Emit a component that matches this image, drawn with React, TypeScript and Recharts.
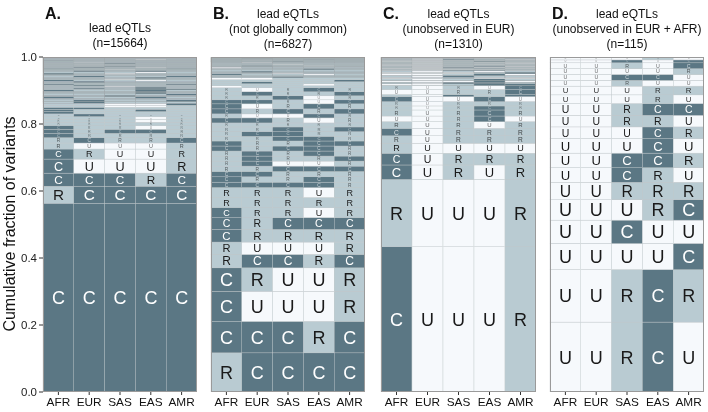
import React from "react";
import { BarChart, Bar, XAxis, YAxis } from "recharts";

const POPS = ["AFR", "EUR", "SAS", "EAS", "AMR"];
const Y_TICKS = [0, 0.2, 0.4, 0.6, 0.8, 1.0];

// each row = one observed pattern (letters in POPS order), bottom to top
const aPatterns = [
  "CCCCC", "RCCCC", "CCCRC", "CUUUR", "CRUUR",
  "RUUUR", "RCRRC", "CRRRR", "CRCCR", "CRRUR", "RRRRR", "RRRUR",
  "RRRUR", "RCRRR", "CRRRR", "CRRCR", "CCRRR", "RRUUR", "RRUUC", "RCRRR", "RCRRC", "RRRRR", "CRRCR",
  "RRCRR", "RRRRC", "RRRCR", "RRRCR", "CRRCR", "RRRCC", "RCRCR", "RRRCR", "RRURR", "RCRRR", "CRRRC",
  "RRRRR", "RCRRR", "CRRUR", "RRURR", "RRRCR", "RCRRC", "RRRRR", "CRURR", "RRRUR", "RCRCR",
  "RRRRR", "RRURR", "CRRRC", "RRRRR", "RCRUR", "RRRRR", "RRCRR", "RRRRR", "RURRR", "RRRRR",
  "RRCRR", "RRRRR", "RURRR", "RRRRR", "CRRRR", "RRRRR", "RRRUR", "RRRRR", "RRRRR", "RCRRR",
];
const aFracs = [
  0.564, 0.051, 0.039, 0.042, 0.030,
  0.018, 0.016, 0.013, 0.012, 0.011, 0.010, 0.009,
  0.008, 0.008, 0.007, 0.007, 0.006, 0.006, 0.006, 0.005, 0.005, 0.005, 0.005,
  0.004, 0.004, 0.004, 0.004, 0.004, 0.003, 0.003, 0.003, 0.003, 0.003, 0.003,
  0.004, 0.004, 0.004, 0.004, 0.004, 0.004, 0.004, 0.004, 0.004, 0.004,
  0.002, 0.002, 0.002, 0.002, 0.002, 0.002, 0.002, 0.002, 0.002, 0.002,
  0.002, 0.002, 0.002, 0.002, 0.002, 0.002, 0.002, 0.002, 0.002, 0.002,
];

const bPatterns = [
  "RCCCC", "CCCRC", "CUUUR", "CRUUR", "RCCRC", "RUUUR", "CRRRR", "CRCCC", "CRRUR", "RRRRR", "RRRUR",
  "CCCCR", "CRRCR", "CCRRR", "RRCCC", "RCUUR", "RCRRC", "RCRCR", "CRCCR", "CRRCC", "RRCCR", "RCCRR", "RRCRC", "RRRRR",
  "CCRUR", "RUUCR", "CRCRC", "CURCR", "CCRUC", "RRCUR", "RCRRC", "RURCR",
  "URRRR", "RRRUR", "RCRRR", "RRRRC", "UURRR", "RRCRR", "RRRRR", "CRRUR", "RRURR", "RCRRR", "RRRRR", "RRRCR",
  "URRRR", "RRRRR", "RCRUR", "RRRRR", "RRURR", "RRRRR",
  "RURRR", "RRRRR", "RRRRR", "RRCRR", "RRRRR", "RURRR", "RRRRR", "RRRRR", "RRRCR", "RRRRR",
  "RRRRR", "RCRRR", "RRRRR", "RRURR", "RRRRR",
];
const bFracs = [
  0.117, 0.094, 0.090, 0.070, 0.040, 0.037, 0.038, 0.035, 0.030, 0.030, 0.030,
  0.016, 0.016, 0.016, 0.016, 0.015, 0.015, 0.015, 0.015, 0.015, 0.014, 0.014, 0.014, 0.012,
  0.015, 0.012, 0.015, 0.015, 0.012, 0.012, 0.012, 0.012,
  0.006, 0.006, 0.006, 0.006, 0.006, 0.004, 0.004, 0.004, 0.004, 0.004, 0.004, 0.004, 0.004,
  0.0025, 0.0025, 0.0025, 0.0025, 0.0025, 0.0025,
  0.001, 0.001, 0.001, 0.001, 0.001, 0.001, 0.001, 0.001, 0.001, 0.001,
  0.001, 0.001, 0.001, 0.001, 0.001,
];

const cPatterns = [
  "CUUUR", "RUUUR", "CURUR", "CURRR", "RUUUU",
  "RURRR", "CURRR", "RURUR", "UURCU", "RURCR", "RURCR", "RURRR", "CUUCU", "RUCRC", "UURRC", "RURUC",
  "UURCC", "RUCCR", "UUUCU", "RURCR", "UURUU", "RUCRR", "UURCU", "UUURC", "RURUR",
  "UUCCU", "RUUUR", "UURCR", "UURRU", "RUCUR", "UUURU", "RURCU", "UURRR", "RUURU", "UURUR",
  "RURRU", "UUURR", "RURUU", "UURCR", "RUUUU", "UURRR", "RUCRU", "UUURR", "RURUR", "UUUUU",
];
const cFracs = [
  0.433, 0.201, 0.043, 0.035, 0.030,
  0.022, 0.022, 0.020, 0.017, 0.018, 0.012, 0.013, 0.015, 0.006, 0.015, 0.012,
  0.005, 0.005, 0.005, 0.005, 0.005, 0.005, 0.005, 0.005, 0.005,
  0.002, 0.002, 0.002, 0.002, 0.002, 0.002, 0.002, 0.002, 0.002, 0.002,
  0.002, 0.002, 0.002, 0.002, 0.002, 0.002, 0.002, 0.002, 0.002, 0.002,
];

const dPatterns = [
  "UURCU", "UURCR", "UUUUC", "UUCUU", "UUURC", "UURRR", "UUCRU", "UUCCR", "UUUCU", "UUUCR",
  "UURRU", "UURCC", "UUURU", "UUURR", "UURUU", "UUCCU", "UUUUR", "UURUC", "UUCUC", "UUURU",
];
const dCounts = [24, 18, 9, 8, 7, 6, 5, 5, 5, 4, 4, 4, 3, 3, 2, 2, 2, 2, 1, 1];

const COLORS: Record<string, string> = { C: "#5b7784", R: "#b9cbd2", U: "#f6f9fc" };

function buildRows(fracs: number[]) {
  const total = fracs.reduce((s, v) => s + v, 0);
  return POPS.map((pop) => {
    const row: Record<string, any> = { pop };
    fracs.forEach((f, i) => { row[`r${i}`] = f / total; });
    return row;
  });
}

const cellShape = (pattern: string) => (props: any) => {
  const { x, y, width, height, payload } = props;
  const letter = pattern[POPS.indexOf(payload.pop)];
  const h = Math.abs(height);
  const top = height < 0 ? y + height : y;
  const fs = Math.min(h * 0.9, 18);
  // very thin slivers read as grey in the original, so give them a darker edge
  const edge = h < 2 ? "#9ea5a9" : "#c4cacd";
  return (
    <g>
      <rect x={x} y={top} width={width} height={h} fill={COLORS[letter]} stroke={edge} strokeWidth={0.4} />
      {fs >= 2.4 && (
        <text x={x + width / 2} y={top + h / 2 + fs * 0.36} textAnchor="middle" fontSize={fs}
          fill={letter === "C" ? "#ffffff" : "#1a1a1a"} opacity={Math.min(1, 0.25 + fs / 12)}>
          {letter}
        </text>
      )}
    </g>
  );
};

const panels = [
  { id: "A", patterns: aPatterns, fracs: aFracs, left: 0, width: 197, yw: 43, title: ["lead eQTLs", "(n=15664)"] },
  { id: "B", patterns: bPatterns, fracs: bFracs, left: 200, width: 165, yw: 11, title: ["lead eQTLs", "(not globally common)", "(n=6827)"] },
  { id: "C", patterns: cPatterns, fracs: cFracs, left: 370, width: 166, yw: 11, title: ["lead eQTLs", "(unobserved in EUR)", "(n=1310)"] },
  { id: "D", patterns: dPatterns, fracs: dCounts, left: 539, width: 165, yw: 11, title: ["lead eQTLs", "(unobserved in EUR + AFR)", "(n=115)"] },
];

const PLOT_TOP = 57;
const PLOT_H = 335;
const FONT = "'Liberation Sans', Arial, Helvetica, sans-serif";

function Panel({ patterns, fracs, width, yw, labels }: any) {
  const data = buildRows(fracs);
  return (
    <BarChart width={width} height={412} data={data} margin={{ top: PLOT_TOP, right: 0, bottom: 0, left: 0 }}
      barCategoryGap={0} barGap={0}>
      <XAxis dataKey="pop" height={20} axisLine={false} tickLine={{ stroke: "#333" }} tickSize={3} tickMargin={3}
        interval={0} tick={{ fontSize: 11.8, fill: "#111", fontFamily: FONT }} />
      <YAxis domain={[0, 1]} ticks={Y_TICKS} width={yw} axisLine={false} tickLine={{ stroke: "#333" }} tickSize={4}
        tickMargin={2} allowDataOverflow tickFormatter={(v: number) => v.toFixed(1)}
        tick={labels ? { fontSize: 11.5, fill: "#222", fontFamily: FONT } : false} />
      {patterns.map((p: string, i: number) => (
        <Bar key={i} dataKey={`r${i}`} stackId="s" isAnimationActive={false} shape={cellShape(p)} />
      ))}
    </BarChart>
  );
}

export default function App() {
  return (
    <div style={{ position: "absolute", left: 0, top: 0, width: 708, height: 412, background: "#fff", fontFamily: FONT }}>
      {panels.map((p) => (
        <div key={p.id + "bg"} style={{ position: "absolute", left: p.left + p.yw, top: PLOT_TOP, width: p.width - p.yw,
          height: PLOT_H, background: "#a3aeb3" }} />
      ))}
      {panels.map((p) => (
        <div key={p.id} style={{ position: "absolute", left: p.left, top: 0, willChange: "transform" }}>
          <Panel patterns={p.patterns} fracs={p.fracs} width={p.width} yw={p.yw} labels={p.id === "A"} />
        </div>
      ))}
      <svg width={708} height={412} style={{ position: "absolute", left: 0, top: 0, pointerEvents: "none" }}>
        {panels.map((p) => {
          const x0 = p.left + p.yw;
          const w = p.width - p.yw;
          const cx = x0 + w / 2;
          const firstY = p.title.length === 2 ? 32 : 18;
          return (
            <g key={p.id}>
              <rect x={x0 + 0.5} y={PLOT_TOP + 0.5} width={w - 1} height={PLOT_H - 1} fill="none" stroke="#9a9a9a" strokeWidth={1} />
              <text x={x0 + 2} y={19} fontSize={16} fontWeight="bold" fill="#111" fontFamily={FONT}>{p.id}.</text>
              {p.title.map((t, k) => (
                <text key={k} x={cx} y={firstY + k * 15} textAnchor="middle" fontSize={12} fill="#111" fontFamily={FONT}>{t}</text>
              ))}
            </g>
          );
        })}
        <text transform="translate(15,224) rotate(-90)" textAnchor="middle" fontSize={16} fill="#111" fontFamily={FONT}>
          Cumulative fraction of variants
        </text>
      </svg>
    </div>
  );
}
